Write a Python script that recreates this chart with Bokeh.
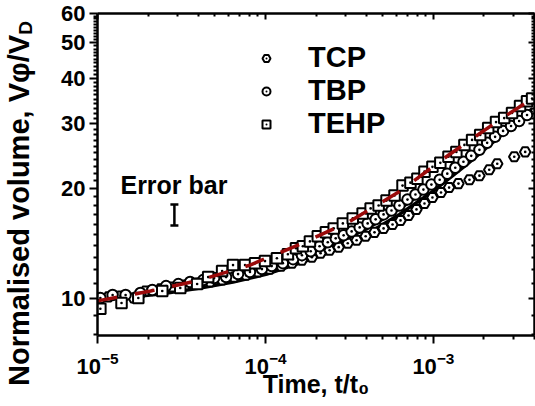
from bokeh.plotting import figure
from bokeh.layouts import row
from bokeh.models import (FixedTicker, LogTickFormatter, LogAxis, Legend, LegendItem,
                          Label, Whisker, ColumnDataSource, Range1d, TeeHead, Div,
                          NumeralTickFormatter, CustomJSTickFormatter)
from bokeh.embed import file_html
from bokeh.resources import INLINE

FONT = "Liberation Sans"

# ---------------- data ----------------
tcp_t = [1.00e-5, 1.16e-5, 1.37e-5, 1.64e-5, 1.93e-5, 2.37e-5, 2.79e-5, 3.33e-5, 3.97e-5, 4.68e-5,
         5.52e-5, 6.50e-5, 7.66e-5, 9.02e-5, 1.06e-4, 1.24e-4, 1.44e-4, 1.65e-4, 1.89e-4, 2.13e-4,
         2.41e-4, 2.73e-4, 3.09e-4, 3.49e-4, 3.95e-4, 4.46e-4, 5.05e-4, 5.71e-4, 6.37e-4, 7.11e-4,
         7.93e-4, 8.85e-4, 9.87e-4, 1.11e-3, 1.24e-3, 1.41e-3, 1.64e-3, 1.88e-3, 2.15e-3, 2.40e-3,
         3.03e-3, 3.52e-3]
tcp_v = [10.0, 10.13, 10.19, 10.06, 10.51, 10.65, 10.78, 10.91, 11.05, 11.12,
         11.26, 11.47, 11.61, 11.84, 12.06, 12.29, 12.52, 12.76, 13.0, 13.33,
         13.58, 13.84, 14.19, 14.45, 14.82, 15.19, 15.57, 15.96, 16.37, 16.89,
         17.54, 18.2, 18.9, 19.5, 20.12, 20.63, 21.13, 21.68, 22.51, 23.37,
         24.41, 25.17]

tbp_t = [1.04e-5, 1.23e-5, 1.47e-5, 1.80e-5, 2.12e-5, 2.56e-5, 3.03e-5, 3.56e-5, 4.26e-5, 4.95e-5,
         5.83e-5, 6.87e-5, 8.09e-5, 9.53e-5, 1.09e-4, 1.27e-4, 1.46e-4, 1.65e-4, 1.86e-4, 2.10e-4,
         2.35e-4, 2.62e-4, 2.92e-4, 3.26e-4, 3.64e-4, 4.06e-4, 4.53e-4, 5.05e-4, 5.63e-4, 6.28e-4,
         7.01e-4, 7.82e-4, 8.72e-4, 9.73e-4, 1.09e-3, 1.21e-3, 1.35e-3, 1.51e-3, 1.68e-3, 1.88e-3,
         2.09e-3, 2.33e-3, 2.60e-3, 2.90e-3, 3.24e-3, 3.61e-3]
tbp_v = [10.06, 10.25, 10.25, 10.38, 10.58, 10.84, 10.98, 11.12, 11.26, 11.40,
         11.47, 11.69, 11.84, 12.06, 12.29, 12.52, 12.84, 13.16, 13.49, 13.92,
         14.27, 14.63, 14.91, 15.28, 15.67, 16.07, 16.48, 17.0, 17.42, 17.98,
         18.66, 19.26, 19.87, 20.50, 21.13, 21.96, 22.79, 23.66, 24.55, 25.50,
         26.64, 27.66, 28.71, 29.62, 30.55, 31.72]

tehp_t = [1.04e-5, 1.39e-5, 1.75e-5, 2.43e-5, 3.11e-5, 3.92e-5, 4.56e-5, 5.52e-5, 6.41e-5, 7.56e-5,
          8.67e-5, 9.94e-5, 1.17e-4, 1.36e-4, 1.52e-4, 1.67e-4, 1.84e-4, 2.05e-4, 2.29e-4, 2.55e-4,
          2.89e-4, 3.31e-4, 3.79e-4, 4.23e-4, 4.72e-4, 5.26e-4, 5.87e-4, 6.55e-4, 7.30e-4, 8.03e-4,
          8.85e-4, 9.87e-4, 1.10e-3, 1.23e-3, 1.37e-3, 1.53e-3, 1.70e-3, 1.90e-3, 2.12e-3, 2.36e-3,
          2.64e-3, 2.94e-3, 3.28e-3, 3.61e-3, 3.87e-3]
tehp_v = [9.40, 9.75, 10.06, 10.51, 10.71, 10.98, 11.47, 11.91, 12.37, 12.37,
          12.52, 12.68, 12.91, 13.24, 13.75, 13.92, 14.35, 14.82, 15.19, 15.57,
          16.07, 16.58, 17.10, 17.65, 17.98, 18.54, 19.14, 20.37, 20.75, 21.27,
          22.23, 22.92, 23.50, 24.41, 25.17, 26.30, 27.14, 28.00, 29.24, 30.35,
          31.12, 32.13, 33.56, 34.6, 35.2]

# dashed (dark red) fit through TEHP
red_t = [1.0e-5, 2.07e-5, 4.09e-5, 8.09e-5, 1.60e-4, 3.17e-4, 6.28e-4, 1.24e-3, 2.47e-3, 3.87e-3]
red_v = [9.88, 10.51, 11.26, 12.37, 14.09, 16.26, 19.62, 24.72, 30.76, 35.1]

# solid black model curves
model_t = [1.0e-5, 1.57e-5, 2.37e-5, 4.09e-5, 6.41e-5, 1.02e-4, 1.60e-4, 2.52e-4, 4.00e-4,
           6.28e-4, 9.87e-4, 1.57e-3, 2.47e-3, 3.87e-3]
model1_v = [9.94, 10.12, 10.31, 10.71, 11.12, 11.69, 12.52, 13.49, 15.0, 17.0, 19.62, 23.2, 27.66, 32.7]
model2_v = [10.06, 10.25, 10.51, 10.98, 11.40, 12.06, 12.91, 14.0, 15.48, 17.54, 20.23, 23.66, 27.99, 33.1]

# error bar
err_t = [2.87e-5]
err_lo = [15.86]
err_hi = [18.09]

series_names = ["TCP", "TBP", "TEHP"]

x_major = [1e-5, 1e-4, 1e-3]
x_minor = [m * d for d in (1e-5, 1e-4, 1e-3) for m in range(2, 10) if m * d <= 4e-3]
y_major = [10, 20, 30, 40, 50, 60]
y_minor = [v for v in range(8, 61) if v % 10 != 0]

LEFT_W = 42

# ---------------- narrow strip holding the y-axis title (real HTML text) ----------------
ytitle = Div(
    text=('<div style="writing-mode: vertical-rl; transform: rotate(180deg); '
          "font-family: 'Liberation Sans', Arial, sans-serif; font-weight: bold; "
          'font-size: 29px; line-height: 29px; white-space: nowrap; width: 29px; '
          'height: 378px; margin: 8px 0 0 5px; text-align: start; color: black;">'
          'Normalised volume, V\u03c6/V<sub style="font-size: 19px;">D</sub></div>'),
    width=LEFT_W, height=406, margin=0)

# ---------------- main figure ----------------
p = figure(width=535 - LEFT_W, height=406, x_axis_type="log", y_axis_type="log",
           x_range=Range1d(1e-5, 4e-3), y_range=Range1d(7.95, 60.0),
           output_backend="svg", toolbar_location=None,
           min_border_left=97 - LEFT_W, min_border_right=1, min_border_top=13, min_border_bottom=71)
p.grid.visible = False
p.outline_line_color = None

xt = FixedTicker(ticks=x_major, minor_ticks=x_minor)
yt = FixedTicker(ticks=y_major, minor_ticks=y_minor)

def style_axis(ax, inward=False):
    ax.axis_line_width = 2.5
    ax.axis_line_color = "black"
    ax.major_tick_line_width = 2
    ax.minor_tick_line_width = 2
    ax.major_tick_line_color = "black"
    ax.minor_tick_line_color = "black"
    if inward:
        ax.major_tick_in, ax.major_tick_out = 6, 0
        ax.minor_tick_in, ax.minor_tick_out = 3, 0
    else:
        ax.major_tick_in, ax.major_tick_out = 0, 8
        ax.minor_tick_in, ax.minor_tick_out = 0, 4
    ax.major_label_text_font = FONT
    ax.major_label_text_font_style = "bold"
    ax.major_label_text_font_size = "22px"
    ax.major_label_text_color = "black"

xa = p.xaxis[0]
ya = p.yaxis[0]
xa.ticker = xt
xa.formatter = LogTickFormatter()
ya.ticker = yt
ya.formatter = NumeralTickFormatter(format="0")
style_axis(xa)
style_axis(ya)
xa.major_label_standoff = 8
ya.major_label_standoff = 4
xa.axis_label = "Time, t/t\u2080"
xa.axis_label_text_font = FONT
xa.axis_label_text_font_style = "bold"
xa.axis_label_text_font_size = "25px"
xa.axis_label_text_color = "black"
xa.axis_label_standoff = -7

blank = CustomJSTickFormatter(code="return ''")

top = LogAxis(ticker=xt, formatter=blank)
style_axis(top, inward=True)
top.major_label_standoff = 0
p.add_layout(top, "above")

right = LogAxis(ticker=yt, formatter=blank)
style_axis(right, inward=True)
right.major_label_standoff = 0
p.add_layout(right, "right")

# model curves
p.line(model_t, model1_v, line_color="black", line_width=3.5)
p.line(model_t, model2_v, line_color="black", line_width=2.5)

mk = dict(size=10.5, fill_color="white", line_color="black", line_width=2)
r_tcp = p.scatter(tcp_t, tcp_v, marker="hex_dot", **mk)
r_tbp = p.scatter(tbp_t, tbp_v, marker="circle_dot", **mk)
r_tehp = p.scatter(tehp_t, tehp_v, marker="square_dot", **mk)

p.line(red_t, red_v, line_color="#9a0a0a", line_width=3.5, line_dash="20 18")

# error bar
src_err = ColumnDataSource(dict(base=err_t, lower=err_lo, upper=err_hi))
p.add_layout(Whisker(source=src_err, base="base", lower="lower", upper="upper",
                     dimension="height", line_width=2.5, line_color="black",
                     upper_head=TeeHead(size=8, line_width=2.5, line_color="black"),
                     lower_head=TeeHead(size=8, line_width=2.5, line_color="black")))
p.add_layout(Label(x=1.37e-5, y=20.5, text="Error bar", text_font=FONT,
                   text_font_style="bold", text_font_size="25px", text_color="black",
                   text_baseline="alphabetic", text_align="left"))

legend = Legend(items=[LegendItem(label=n, renderers=[r]) for n, r in
                       zip(series_names, [r_tcp, r_tbp, r_tehp])],
                location=(159, 195), glyph_width=20, glyph_height=20, label_standoff=32,
                spacing=0, padding=0, margin=0, border_line_color=None,
                background_fill_alpha=0, label_text_font=FONT,
                label_text_font_style="bold", label_text_font_size="29px",
                label_text_color="black")
p.add_layout(legend)

layout = row(ytitle, p, spacing=0)
open("out.html", "w").write(file_html(layout, INLINE))
